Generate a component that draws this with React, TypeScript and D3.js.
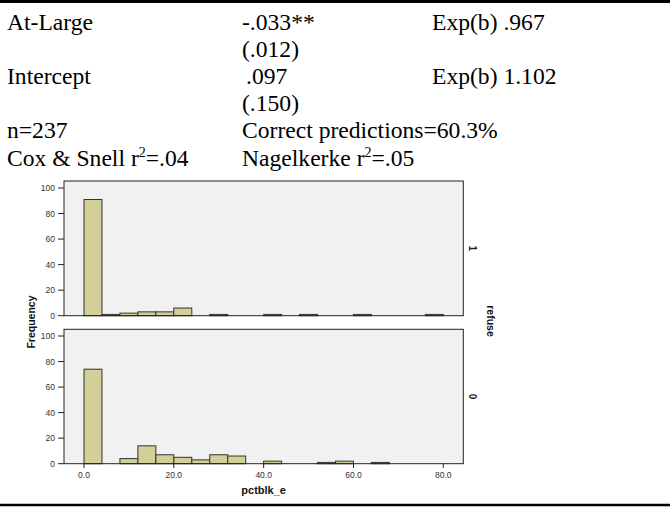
import React, { useEffect } from "react";
import * as d3 from "d3";

// Table text
const tableCol1 = ["At-Large", "", "Intercept", "", "n=237", "Cox & Snell r"];
const tableCol2 = ["-.033**", "(.012)", ".097", "(.150)", "Correct predictions=60.3%", "Nagelkerke r"];
const tableCol3 = ["Exp(b) .967", "", "Exp(b) 1.102", "", "", ""];

// Histogram data (bin width 4, starting at 0)
const binStarts = [0, 4, 8, 12, 16, 20, 24, 28, 32, 36, 40, 44, 48, 52, 56, 60, 64, 68, 72, 76];
const refuse1Counts = [91, 1, 2, 3, 3, 6, 0, 1, 0, 0, 1, 0, 1, 0, 0, 1, 0, 0, 0, 1];
const refuse0Counts = [74, 0, 4, 14, 7, 5, 3, 7, 6, 0, 2, 0, 0, 1, 2, 0, 1, 0, 0, 0];
const binWidth = 4;
const xTicks = [0, 20, 40, 60, 80];
const yTicks = [0, 20, 40, 60, 80, 100];
const panelLabels = ["1", "0"];

const W = 670;
const H = 507;
const plotLeft = 64;
const plotRight = 463.3;
const panels = [
  { top: 181, bottom: 315.7, counts: refuse1Counts, label: panelLabels[0] },
  { top: 329.3, bottom: 463.7, counts: refuse0Counts, label: panelLabels[1] },
];

const x = d3.scaleLinear().domain([-4.453, 84.45]).range([plotLeft, plotRight]);

export default function App() {
  useEffect(() => {
    document.body.style.margin = "0";
  }, []);
  const serif = "'Liberation Serif', 'Times New Roman', serif";
  const sans = "'Liberation Sans', Arial, sans-serif";
  const rowY = (i: number) => 29.5 + i * 27.2;
  const fs = 23.6;
  return (
    <svg width={W} height={H} style={{ display: "block" }}>
      <rect width={W} height={H} fill="#fff" />
      <line x1={0} x2={W} y1={1.5} y2={1.5} stroke="#000" strokeWidth={3} />
      <line x1={0} x2={W} y1={505} y2={505} stroke="#000" strokeWidth={2.5} />
      <g fontFamily={serif} fontSize={fs} fill="#000">
        {tableCol1.map((t, i) =>
          t ? (
            <text key={"c1" + i} x={7} y={rowY(i)}>
              {t}
              {i === 5 ? (
                <>
                  <tspan fontSize={14} dy={-9}>2</tspan>
                  <tspan dy={9}>=.04</tspan>
                </>
              ) : null}
            </text>
          ) : null
        )}
        {tableCol2.map((t, i) =>
          t ? (
            <text key={"c2" + i} x={i === 2 ? 246 : 242} y={rowY(i)}>
              {t}
              {i === 5 ? (
                <>
                  <tspan fontSize={14} dy={-9}>2</tspan>
                  <tspan dy={9}>=.05</tspan>
                </>
              ) : null}
            </text>
          ) : null
        )}
        {tableCol3.map((t, i) =>
          t ? (
            <text key={"c3" + i} x={432} y={rowY(i)}>
              {t}
            </text>
          ) : null
        )}
      </g>
      {panels.map((p, pi) => {
        const y = d3.scaleLinear().domain([0, 100]).range([p.bottom, p.bottom - 127.7]);
        return (
          <g key={pi}>
            <rect x={plotLeft} y={p.top} width={plotRight - plotLeft} height={p.bottom - p.top} fill="#f1f1f1" />
            {p.counts.map((c, i) =>
              c > 0 ? (
                <rect
                  key={i}
                  x={x(binStarts[i])}
                  y={y(c)}
                  width={x(binStarts[i] + binWidth) - x(binStarts[i])}
                  height={y(0) - y(c)}
                  fill="#d3cf98"
                  stroke="#333"
                  strokeWidth={1}
                />
              ) : null
            )}
            <rect x={plotLeft} y={p.top} width={plotRight - plotLeft} height={p.bottom - p.top} fill="none" stroke="#222" strokeWidth={1} />
            {yTicks.map((t) => (
              <g key={t}>
                <line x1={plotLeft - 6} x2={plotLeft} y1={y(t)} y2={y(t)} stroke="#222" strokeWidth={1} />
                <text x={55} y={y(t) + 3} textAnchor="end" fontFamily={sans} fontSize={8.5} fill="#333">
                  {t}
                </text>
              </g>
            ))}
            <text
              transform={`translate(${472},${(p.top + p.bottom) / 2}) rotate(90)`}
              textAnchor="middle"
              dy={3}
              fontFamily={sans}
              fontSize={10}
              fontWeight="bold"
              fill="#222"
            >
              {p.label}
            </text>
          </g>
        );
      })}
      {xTicks.map((t) => (
        <g key={t}>
          <line x1={x(t)} x2={x(t)} y1={463.7} y2={468} stroke="#222" strokeWidth={1} />
          <text x={x(t)} y={478} textAnchor="middle" fontFamily={sans} fontSize={8.5} fill="#333">
            {d3.format(".1f")(t)}
          </text>
        </g>
      ))}
      <text x={(plotLeft + plotRight) / 2} y={494} textAnchor="middle" fontFamily={sans} fontSize={11} fontWeight="bold" fill="#111">
        pctblk_e
      </text>
      <text
        transform={`translate(${35},${322}) rotate(-90)`}
        textAnchor="middle"
        fontFamily={sans}
        fontSize={10.5}
        fontWeight="bold"
        fill="#111"
      >
        Frequency
      </text>
      <text
        transform={`translate(${487},${321}) rotate(90)`}
        textAnchor="middle"
        fontFamily={sans}
        fontSize={10.5}
        fontWeight="bold"
        fill="#111"
      >
        refuse
      </text>
    </svg>
  );
}
